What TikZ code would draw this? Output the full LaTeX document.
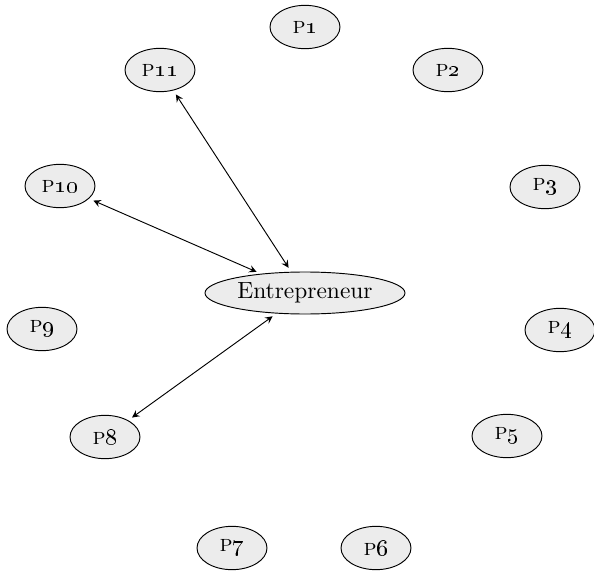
\documentclass[tikz,border=0pt]{standalone}
\usepackage{tikz}
\usetikzlibrary{shapes,arrows,positioning,calc}

\tikzset{
  pnode/.style={ellipse,draw,fill=gray!15,minimum width=1.05cm,minimum height=0.65cm,inner sep=0pt},
  enode/.style={ellipse,draw,fill=gray!15,minimum width=3cm,minimum height=0.63cm,inner sep=0pt},
  link/.style={<->,>=stealth,shorten >=2pt,shorten <=2pt}
}
\newcommand{\plabel}[1]{\textsc{p}\oldstylenums{#1}}

\begin{document}
\begin{tikzpicture}
\useasboundingbox (-4.575,-4.23) rectangle (4.335,4.395);
\node[enode] (ent) at (0,0) {Entrepreneur};
\node[pnode] (p1) at (0,3.99) {\plabel{1}};
\node[pnode] (p2) at (2.145,3.345) {\plabel{2}};
\node[pnode] (p3) at (3.6,1.59) {\plabel{3}};
\node[pnode] (p4) at (3.825,-0.555) {\plabel{4}};
\node[pnode] (p5) at (3.03,-2.145) {\plabel{5}};
\node[pnode] (p6) at (1.065,-3.825) {\plabel{6}};
\node[pnode] (p7) at (-1.095,-3.825) {\plabel{7}};
\node[pnode] (p8) at (-3.0,-2.16) {\plabel{8}};
\node[pnode] (p9) at (-3.945,-0.54) {\plabel{9}};
\node[pnode] (p10) at (-3.675,1.605) {\plabel{10}};
\node[pnode] (p11) at (-2.175,3.345) {\plabel{11}};
\draw[link] (p11) -- (ent);
\draw[link] (p10) -- (ent);
\draw[link] (p8) -- (ent);
\end{tikzpicture}
\end{document}
